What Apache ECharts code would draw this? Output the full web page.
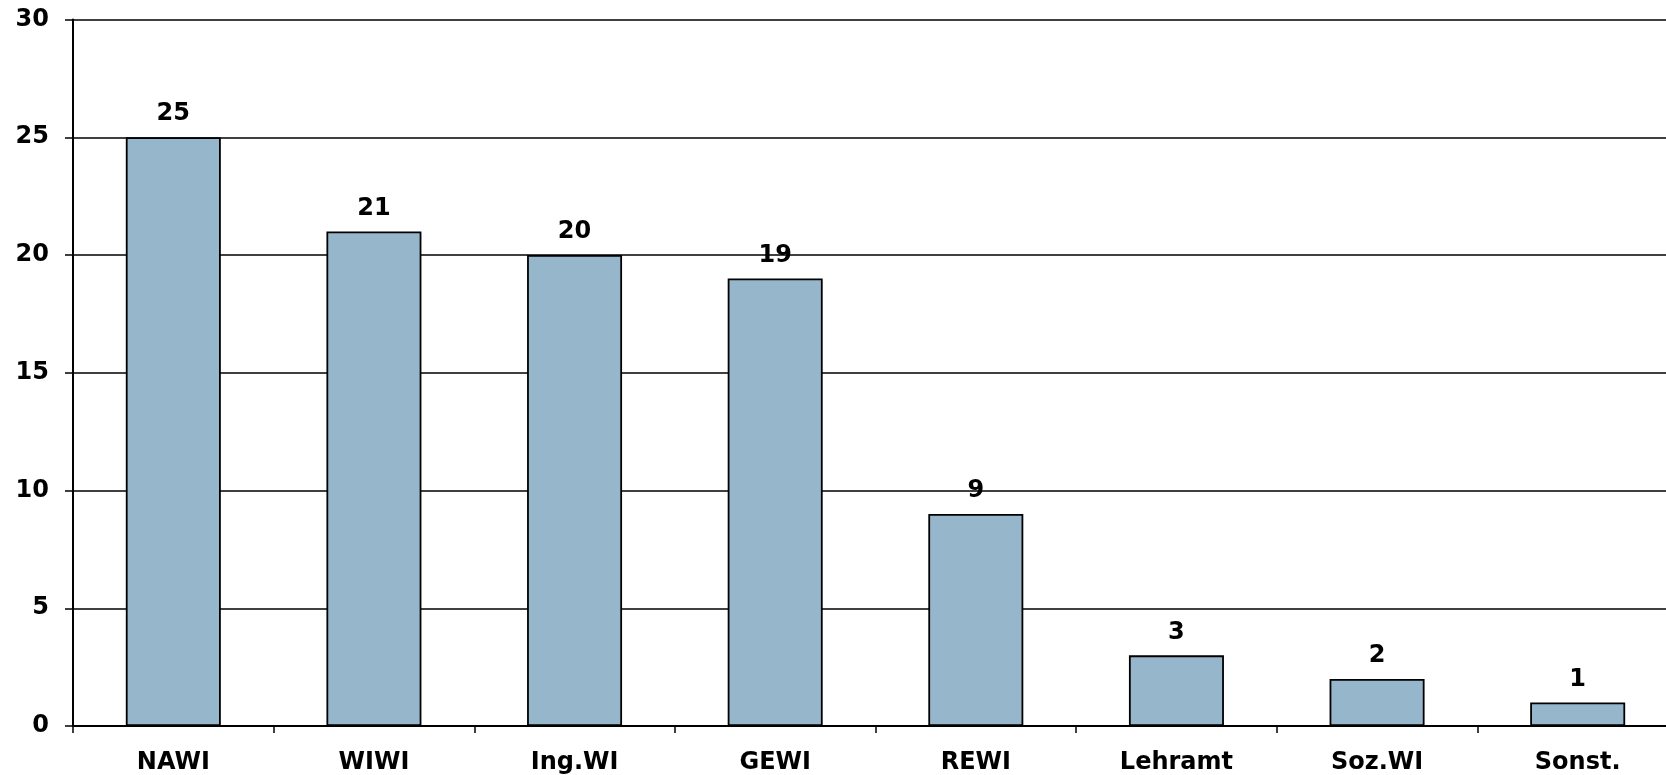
<!DOCTYPE html>
<html>
<head>
<meta charset="utf-8">
<script src="https://cdn.jsdelivr.net/npm/echarts@6/dist/echarts.min.js"></script>
<style>
  html, body { margin: 0; padding: 0; background: #fff; overflow: hidden; width: 1666px; height: 775px; }
  /* the drawing area is a little wider than the window, so the plot runs off the right edge */
  #chart { width: 1680px; height: 775px; }
</style>
</head>
<body>
<div id="chart"></div>
<script>
// Fachrichtungen und Anzahl
const categories = ['NAWI', 'WIWI', 'Ing.WI', 'GEWI', 'REWI', 'Lehramt', 'Soz.WI', 'Sonst.'];
const counts = [25, 21, 20, 19, 9, 3, 2, 1];

const font = '"DejaVu Sans", Verdana, sans-serif';
const chart = echarts.init(document.getElementById('chart'));

chart.setOption({
  animation: false,
  backgroundColor: '#ffffff',
  grid: { left: 73, right: 2, top: 19.5, bottom: 49, containLabel: false },
  xAxis: {
    type: 'category',
    data: categories,
    axisLine: { lineStyle: { color: '#000', width: 2 } },
    axisTick: { show: true, length: 7, inside: false, lineStyle: { color: '#000', width: 1.5 } },
    axisLabel: { color: '#000', fontFamily: font, fontWeight: 'bold', fontSize: 24, margin: 25 },
    splitLine: { show: false }
  },
  yAxis: {
    type: 'value',
    min: 0,
    max: 30,
    interval: 5,
    axisLine: { show: true, lineStyle: { color: '#000', width: 2 } },
    axisTick: { show: true, length: 8, lineStyle: { color: '#000', width: 1.5 } },
    axisLabel: { color: '#000', fontFamily: font, fontWeight: 'bold', fontSize: 24, margin: 24, padding: [6, 0, 0, 0] },
    splitLine: { show: true, lineStyle: { color: '#000', width: 1.5 } }
  },
  series: [{
    type: 'bar',
    data: counts,
    barWidth: 95,
    itemStyle: { color: '#96b7cb', borderColor: '#000', borderWidth: 1.8 },
    label: {
      show: true,
      position: 'top',
      distance: 11,
      color: '#000',
      fontFamily: font,
      fontWeight: 'bold',
      fontSize: 24
    }
  }]
});
</script>
</body>
</html>
